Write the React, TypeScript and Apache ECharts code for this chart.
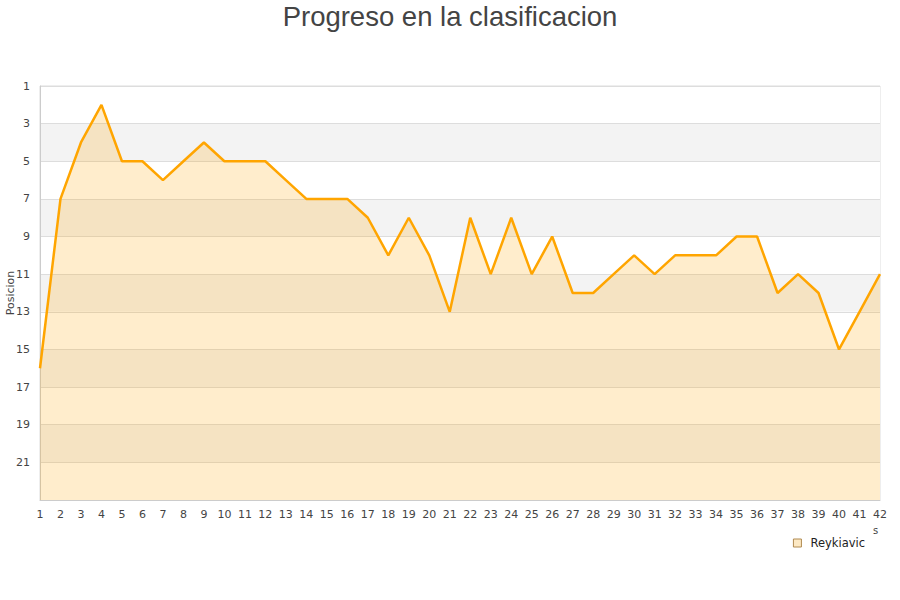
import React, { useEffect, useRef } from "react";
import * as echarts from "echarts";

const rounds: string[] = Array.from({ length: 42 }, (_, i) => String(i + 1));
const positions: number[] = [
  16, 7, 4, 2, 5, 5, 6, 5, 4, 5,
  5, 5, 6, 7, 7, 7, 8, 10, 8, 10,
  13, 8, 11, 8, 11, 9, 12, 12, 11, 10,
  11, 10, 10, 10, 9, 9, 12, 11, 12, 15,
  13, 11,
];
const teamName = "Reykiavic";
const titleText = "Progreso en la clasificacion";
const yAxisName = "Posicion";

export default function App() {
  const ref = useRef<HTMLDivElement>(null);
  useEffect(() => {
    if (!ref.current) return;
    const chart = echarts.init(ref.current, null, { renderer: "svg" });
    chart.setOption({
      animation: false,
      backgroundColor: "#ffffff",
      title: {
        text: titleText,
        left: "center",
        top: -3,
        textStyle: {
          fontFamily: "Liberation Sans",
          fontSize: 27.5,
          fontWeight: "normal",
          color: "#444444",
        },
      },
      grid: {
        left: 40,
        right: 20,
        top: 86,
        bottom: 100,
        containLabel: false,
        outerBoundsMode: "none",
        show: true,
        borderColor: "#dddddd",
        borderWidth: 1,
      },
      legend: {
        right: 30,
        top: 532,
        icon: "rect",
        itemWidth: 8,
        itemHeight: 8,
        itemGap: 6,
        textStyle: {
          fontFamily: "DejaVu Sans",
          fontSize: 11.5,
          color: "#222222",
          padding: [0, 0, 0, 4],
        },
        data: [
          {
            name: teamName,
            itemStyle: { color: "#fde9c4", borderColor: "#b08a50", borderWidth: 1 },
          },
        ],
      },
      graphic: [
        {
          type: "text",
          left: 873,
          top: 525,
          style: { text: "s", fontFamily: "DejaVu Sans", fontSize: 10, fill: "#444444" },
        },
      ],
      xAxis: {
        type: "category",
        data: rounds,
        boundaryGap: false,
        axisLine: { lineStyle: { color: "#cccccc" } },
        axisTick: { show: false },
        axisLabel: {
          fontFamily: "DejaVu Sans",
          fontSize: 11,
          color: "#444444",
          interval: 0,
          margin: 9,
        },
        splitLine: { show: false },
      },
      yAxis: {
        type: "value",
        inverse: true,
        min: 1,
        max: 23,
        interval: 2,
        name: yAxisName,
        nameLocation: "middle",
        nameRotate: 90,
        nameGap: 24,
        nameMoveOverlap: false,
        nameTextStyle: { fontFamily: "DejaVu Sans", fontSize: 11, color: "#444444" },
        axisLine: { show: true, lineStyle: { color: "#cccccc" } },
        axisTick: { show: false },
        axisLabel: {
          fontFamily: "DejaVu Sans",
          fontSize: 11,
          color: "#444444",
          margin: 10,
          formatter: (v: number) => (v === 23 ? "" : String(v)),
        },
        splitLine: { show: true, lineStyle: { color: "#dddddd" } },
        splitArea: { show: true, areaStyle: { color: ["#ffffff", "#f3f3f3"] } },
      },
      series: [
        {
          name: teamName,
          type: "line",
          data: positions,
          showSymbol: false,
          symbol: "none",
          lineStyle: { color: "#ffa500", width: 2.5 },
          itemStyle: { color: "#ffa500" },
          areaStyle: { color: "rgba(255,165,0,0.2)", opacity: 1, origin: "end" },
        },
      ],
    });
    return () => chart.dispose();
  }, []);
  return <div ref={ref} style={{ width: 900, height: 600, position: "absolute", left: 0, top: 0 }} />;
}
